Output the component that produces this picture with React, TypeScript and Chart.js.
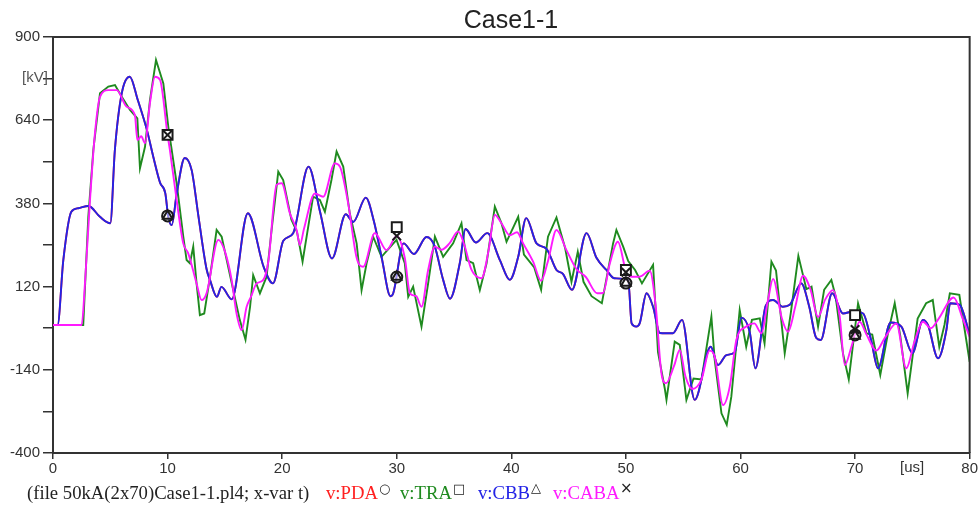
import React, { useEffect, useRef } from "react";
import { Chart, registerables } from "chart.js";

Chart.register(...registerables);

const TITLE = "Case1-1";
const X_MIN = 0;
const X_MAX = 80;
const X_STEP = 10;
const Y_MIN = -400;
const Y_MAX = 900;
const Y_STEP = 130;
const Y_LABELED = [-400, -140, 120, 380, 640, 900];
const MARKER_T = [10, 30, 50, 70];

// v:CBB (blue) [t (us), kV]
const CBB: [number, number][] = [
  [0, 0], [0.4, 0], [0.9, 203], [1.6, 354], [2.2, 365], [3.1, 372], [4.1, 338], [5.0, 318],
  [5.4, 547], [6.0, 724], [6.7, 776], [7.4, 703], [8.2, 609], [8.75, 526], [9.35, 444], [9.8, 412],
  [10.06, 338], [10.36, 312], [10.8, 411], [11.5, 522], [12.1, 484], [12.7, 338], [13.4, 175],
  [13.7, 141], [14.3, 88], [14.7, 119], [15.6, 80], [17.0, 349], [18.4, 180], [19.2, 130],
  [20.1, 263], [20.96, 287], [22.3, 495], [23.3, 355], [24.35, 208], [25.55, 346], [26.2, 322],
  [27.3, 398], [28.0, 325], [28.7, 208], [29.45, 90], [29.7, 100], [30.6, 255], [31.5, 222],
  [32.6, 275], [33.3, 247], [34.05, 141], [34.65, 82], [35.5, 193], [36.0, 300], [36.9, 258],
  [37.9, 287], [39.0, 203], [39.87, 141], [40.6, 213], [41.3, 334], [42.2, 255], [43.07, 238],
  [43.94, 172], [44.5, 160], [45.3, 110], [46.56, 287], [47.43, 210], [48.3, 172], [49.0, 146],
  [50.2, 141], [50.5, 5], [50.9, -5], [51.2, 5], [51.8, 99], [52.37, 57], [52.96, -25],
  [54.1, -26], [54.9, 16], [56.0, -234], [57.4, -68], [58.04, -125], [58.77, -94], [59.5, -85],
  [60.08, 23], [60.8, -21], [61.3, -135], [62.2, 60], [62.84, 78], [63.7, 57], [64.3, 63],
  [65.3, 130], [66.0, 57], [66.6, -40], [67.0, -47], [68.0, 99], [68.94, 36], [69.8, 42],
  [70.7, 36], [71.4, -47], [72.0, -135], [73.1, 8], [74.04, -5], [75.0, -88], [75.93, 16],
  [76.36, 0], [77.24, -104], [77.97, -16], [78.3, 68], [79.13, 63], [80, -30],
];

// v:PDA (red) lies under the blue trace in the picture
const PDA: [number, number][] = CBB;

// v:TRA (green)
const TRA: [number, number][] = [
  [0, 0], [2.64, 0], [3.08, 338], [3.52, 547], [4.1, 724], [4.83, 745], [5.41, 750], [6.0, 713],
  [6.72, 672], [7.36, 646], [7.59, 490], [8.03, 557], [8.46, 703], [8.99, 828], [9.63, 755],
  [10.06, 620], [10.79, 443], [11.37, 276], [11.66, 203], [11.95, 193], [12.24, 245], [12.53, 130],
  [12.82, 31], [13.2, 36], [13.7, 150], [14.28, 297], [14.72, 276], [15.73, 109], [16.3, 16],
  [16.8, -46], [17.2, 57], [17.47, 156], [18.06, 99], [18.64, 151], [19.08, 297], [19.66, 479],
  [20.09, 453], [20.8, 330], [21.3, 290], [21.78, 198], [22.7, 401], [23.29, 391], [23.73, 354],
  [24.3, 453], [24.75, 542], [25.33, 495], [25.9, 349], [26.5, 255], [26.93, 109], [27.37, 193],
  [27.94, 276], [28.67, 213], [29.98, 266], [30.7, 193], [31.0, 88], [31.43, 120], [32.16, -5],
  [32.74, 130], [33.33, 276], [34.05, 213], [34.92, 255], [35.65, 318], [36.09, 203], [36.67, 193],
  [37.25, 109], [37.84, 193], [38.56, 370], [39.14, 318], [39.58, 260], [40.6, 338], [41.1, 220],
  [42.0, 180], [42.6, 110], [43.2, 276], [43.94, 336], [44.7, 240], [45.25, 135], [45.8, 229],
  [46.3, 135], [47.0, 90], [47.9, 68], [48.88, 255], [49.17, 297], [49.76, 245], [50.2, 200],
  [50.8, 172], [51.4, 130], [52.37, 188], [52.8, -85], [53.4, -200], [53.54, -234], [54.26, -52],
  [54.7, -62], [55.28, -234], [55.9, -167], [56.6, -170], [57.46, 26], [57.75, -109], [58.34, -276],
  [58.8, -312], [59.2, -224], [59.93, 47], [60.5, -68], [61.0, 16], [61.68, 21], [62.1, -57],
  [62.7, 198], [63.1, 170], [63.86, -88], [64.4, 40], [65.05, 216], [65.75, 112], [66.2, 120],
  [66.77, -5], [67.3, 110], [67.93, 141], [68.3, 90], [68.94, -88], [69.45, -170], [70.26, 68],
  [70.99, -26], [71.5, -30], [72.2, -156], [72.87, -26], [73.46, 68], [73.95, -35], [74.59, -214],
  [75.46, 20], [76.2, 68], [76.78, 78], [77.35, -68], [77.8, 0], [78.27, 99], [79.1, 94],
  [79.5, 0], [80, -115],
];

// v:CABA (magenta)
const CABA: [number, number][] = [
  [0, 0], [2.5, 0], [2.79, 130], [3.23, 391], [3.66, 599], [4.1, 713], [4.83, 734], [5.56, 734],
  [6.43, 682], [7.15, 656], [7.36, 578], [7.7, 590], [8.03, 568], [8.46, 693], [8.9, 776],
  [9.34, 766], [10.0, 594], [10.2, 547], [10.79, 391], [11.37, 255], [11.8, 224], [12.53, 130],
  [12.97, 78], [13.4, 99], [14.43, 266], [15.0, 230], [15.59, 141], [16.02, 36], [16.46, -16],
  [16.9, 57], [17.3, 90], [17.77, 130], [18.35, 141], [18.8, 200], [19.51, 438], [19.95, 443],
  [20.67, 349], [21.26, 297], [21.55, 250], [21.9, 300], [22.86, 411], [23.58, 401], [24.6, 505],
  [25.04, 495], [25.76, 380], [26.5, 210], [27.07, 182], [28.09, 287], [29.11, 234], [30.0, 278],
  [30.7, 210], [31.15, 99], [31.7, 90], [32.16, 57], [32.74, 172], [33.33, 245], [33.9, 235],
  [34.6, 255], [35.36, 292], [35.9, 250], [36.53, 172], [37.4, 146], [38.0, 230], [38.56, 344],
  [39.14, 318], [39.87, 280], [40.5, 290], [41.03, 255], [41.9, 198], [42.6, 138], [43.2, 200],
  [43.94, 297], [44.81, 234], [45.68, 175], [46.5, 150], [47.5, 99], [48.0, 100], [48.6, 193],
  [49.3, 260], [50.0, 170], [50.5, 151], [51.2, 151], [52.08, 170], [52.6, 60], [53.1, -151],
  [53.5, -182], [54.2, -128], [54.7, -78], [55.2, -161], [55.8, -200], [56.6, -170], [57.3, -80],
  [57.75, -99], [58.48, -250], [59.06, -193], [59.64, -47], [60.5, -5], [61.2, 5], [61.83, -26],
  [62.4, 78], [62.84, 144], [63.6, 22], [64.15, -21], [64.8, 60], [65.46, 154], [66.1, 112],
  [66.77, 25], [67.4, 80], [68.07, 109], [68.66, 26], [69.1, -125], [69.68, -68], [70.4, 10],
  [71.0, -30], [71.86, -80], [72.6, -40], [73.6, 5], [74.47, -135], [75.2, -50], [75.93, 10],
  [76.6, -10], [77.3, 20], [78.6, 86], [79.43, 16], [80, -37],
];

// marker values at MARKER_T
const PDA_MARK = [341, 150, 131, -31];
const TRA_MARK = [594, 306, 172, 31];
const CBB_MARK = [341, 150, 131, -34];
const CABA_MARK = [594, 278, 165, -14];

const toPts = (a: [number, number][]) => a.map(([x, y]) => ({ x, y }));
const markPts = (vals: number[]) => vals.map((y, i) => ({ x: MARKER_T[i], y }));

const boxPlugin = {
  id: "plotBox",
  afterDatasetsDraw(chart: any) {
    const { ctx, chartArea } = chart;
    ctx.save();
    ctx.strokeStyle = "#333";
    ctx.lineWidth = 2;
    ctx.beginPath();
    ctx.moveTo(chartArea.left, chartArea.top);
    ctx.lineTo(chartArea.right, chartArea.top);
    ctx.lineTo(chartArea.right, chartArea.bottom);
    ctx.stroke();
    ctx.restore();
  },
};

const TICK_FONT = { family: "'Liberation Sans', Arial, sans-serif", size: 15 };

export default function App() {
  const ref = useRef<HTMLCanvasElement | null>(null);

  useEffect(() => {
    if (!ref.current) return;
    const line = (label: string, pts: [number, number][], color: string, order: number, mono: boolean) => ({
      label,
      data: toPts(pts),
      borderColor: color,
      backgroundColor: color,
      borderWidth: 1.9,
      pointRadius: 0,
      fill: false,
      order,
      cubicInterpolationMode: mono ? "monotone" : "default",
      tension: 0,
    });
    const mark = (label: string, vals: number[], style: string, r: number, fillBg: string, order: number) => ({
      label,
      data: markPts(vals),
      showLine: false,
      pointStyle: style,
      pointRadius: r,
      pointBorderColor: "#1a1a1a",
      pointBackgroundColor: fillBg,
      borderColor: "#1a1a1a",
      backgroundColor: fillBg,
      pointBorderWidth: 2,
      order,
    });
    const chart = new Chart(ref.current, {
      type: "line",
      data: {
        datasets: [
          line("v:PDA", PDA, "#ff2020", 5, true),
          line("v:TRA", TRA, "#1f8a1f", 4, false),
          line("v:CBB", CBB, "#2323e6", 3, true),
          line("v:CABA", CABA, "#ff1aff", 2, true),
          mark("PDA mark", PDA_MARK, "circle", 5.5, "rgba(255,255,255,0.5)", 0.4),
          mark("TRA mark", TRA_MARK, "rect", 7, "#ffffff", 0.3),
          mark("CBB mark", CBB_MARK, "triangle", 5.5, "rgba(255,255,255,0)", 0.2),
          mark("CABA mark", CABA_MARK, "crossRot", 6, "#ffffff", 0.1),
        ] as any,
      },
      options: {
        animation: false,
        responsive: false,
        devicePixelRatio: 1,
        layout: { padding: { top: 37, right: 9, left: 0, bottom: 0 } },
        plugins: { legend: { display: false }, title: { display: false }, tooltip: { enabled: false } },
        scales: {
          x: {
            type: "linear",
            min: X_MIN,
            max: X_MAX,
            ticks: { stepSize: X_STEP, color: "#333", font: TICK_FONT, padding: 1, maxRotation: 0, autoSkip: false },
            grid: { drawOnChartArea: false, drawTicks: true, tickLength: 6, color: "#333", lineWidth: 1.5 },
            border: { display: true, color: "#333", width: 2 },
            afterFit: (s: any) => { s.height = 54; },
          },
          y: {
            type: "linear",
            min: Y_MIN,
            max: Y_MAX,
            ticks: {
              stepSize: Y_STEP,
              color: "#333",
              font: TICK_FONT,
              padding: 3,
              autoSkip: false,
              callback: (v: any) => (Y_LABELED.includes(Math.round(Number(v))) ? String(Math.round(Number(v))) : ""),
            },
            grid: { drawOnChartArea: false, drawTicks: true, tickLength: 10, color: "#333", lineWidth: 1.5 },
            border: { display: true, color: "#333", width: 2 },
            afterFit: (s: any) => { s.width = 53; },
          },
        },
      } as any,
      plugins: [boxPlugin],
    });
    return () => chart.destroy();
  }, []);

  const legendFont = "'Liberation Serif', 'Times New Roman', serif";
  const sym: React.CSSProperties = {
    position: "absolute",
    fontFamily: "'DejaVu Sans', sans-serif",
    fontSize: 13,
    color: "#222",
    lineHeight: "1",
  };
  const lt = (left: number, color: string): React.CSSProperties => ({
    position: "absolute",
    left,
    top: 484,
    fontFamily: legendFont,
    fontSize: 18.7,
    lineHeight: "1",
    color,
    whiteSpace: "nowrap",
  });

  return (
    <div style={{ position: "absolute", left: 0, top: 0, width: 979, height: 507, background: "#fff", overflow: "hidden" }}>
      <canvas ref={ref} width={979} height={507} style={{ position: "absolute", left: 0, top: 0, width: 979, height: 507 }} />
      <div style={{ position: "absolute", left: 361, width: 300, top: 7, textAlign: "center", fontFamily: "'Liberation Sans', Arial, sans-serif", fontSize: 25, lineHeight: "1", color: "#222" }}>{TITLE}</div>
      <div style={{ position: "absolute", left: 22, top: 69, fontFamily: "'Liberation Sans', Arial, sans-serif", fontSize: 15, lineHeight: "1", color: "#555" }}>[kV]</div>
      <div style={{ position: "absolute", left: 900, top: 459, fontFamily: "'Liberation Sans', Arial, sans-serif", fontSize: 15, lineHeight: "1", color: "#333" }}>[us]</div>
      <div style={lt(27, "#222")}>(file 50kA(2x70)Case1-1.pl4; x-var t)</div>
      <div style={lt(326, "#ff2020")}>v:PDA</div>
      <div style={{ ...sym, left: 379, top: 482 }}>○</div>
      <div style={lt(400, "#1f8a1f")}>v:TRA</div>
      <div style={{ ...sym, left: 453, top: 482, fontWeight: "bold" }}>□</div>
      <div style={lt(478, "#2323e6")}>v:CBB</div>
      <div style={{ ...sym, left: 531, top: 481 }}>△</div>
      <div style={lt(553, "#ff1aff")}>v:CABA</div>
      <div style={{ ...sym, left: 620, top: 481, fontSize: 15 }}>×</div>
    </div>
  );
}
